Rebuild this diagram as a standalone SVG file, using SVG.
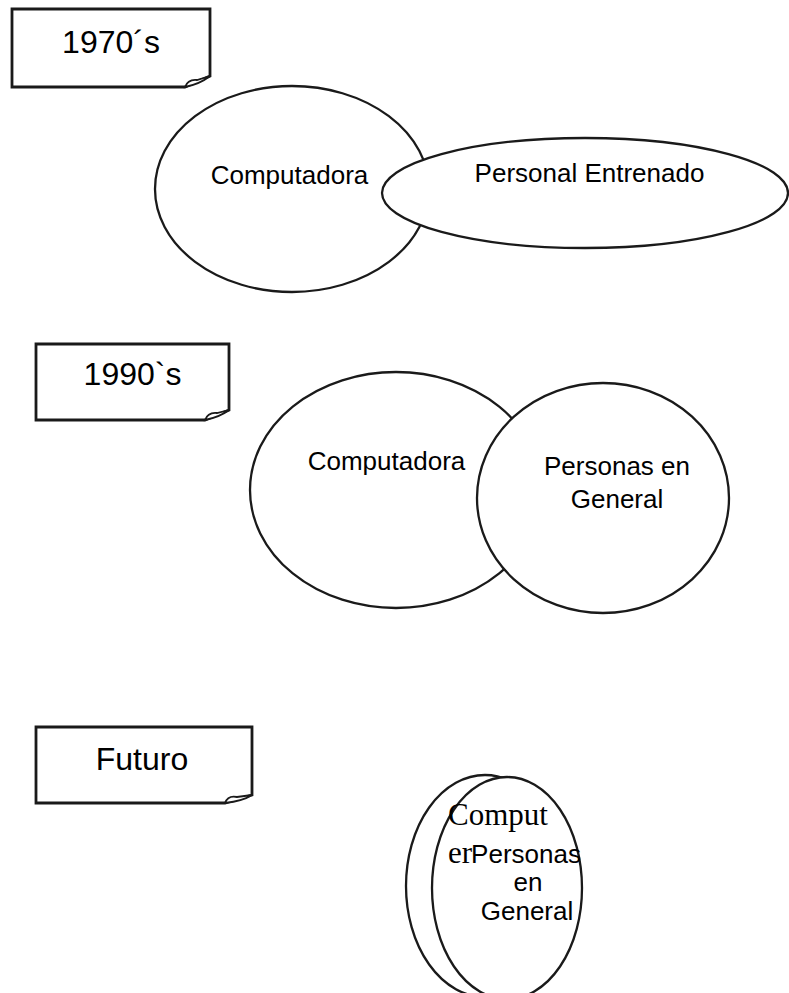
<svg xmlns="http://www.w3.org/2000/svg" width="789" height="993" viewBox="0 0 789 993">
<style>
.box{fill:#fff;stroke:#1a1a1a;stroke-width:2.8;stroke-linejoin:miter}
.curl{fill:#fff;stroke:#1a1a1a;stroke-width:1.8}
.shape{fill:#fff;stroke:#1a1a1a;stroke-width:2.3}
.lbl{font-family:"Liberation Sans",Arial,sans-serif;font-size:26px;fill:#000;text-anchor:middle}
.ttl{font-family:"Liberation Sans",Arial,sans-serif;font-size:32px;fill:#000;text-anchor:middle}
.ser{font-family:"Liberation Serif","Times New Roman",serif;font-size:31px;fill:#000}
</style>
<rect width="789" height="993" fill="#fff"/>
<g id="box-1970s">
<path class="box" d="M12,9 H210 V76 L185,87 H12 Z"/>
<path class="curl" d="M185,87 Q188,79 197,80 L210,76 Q200,84 185,87 Z"/>
<text class="ttl" x="111" y="53">1970´s</text>
</g>
<g id="computadora-1970">
<ellipse class="shape" cx="292" cy="189" rx="137" ry="103"/>
<text class="lbl" x="289.5" y="184">Computadora</text>
</g>
<g id="personal-entrenado">
<ellipse class="shape" cx="585" cy="193" rx="203" ry="55"/>
<text class="lbl" x="589.5" y="182">Personal Entrenado</text>
</g>
<g id="box-1990s">
<path class="box" d="M36,344 H229 V410 L205,420 H36 Z"/>
<path class="curl" d="M205,420 Q208,412 217,413 L229,410 Q220,417 205,420 Z"/>
<text class="ttl" x="132.5" y="385">1990`s</text>
</g>
<g id="computadora-1990">
<ellipse class="shape" cx="396" cy="490" rx="146" ry="118"/>
<text class="lbl" x="386.5" y="470">Computadora</text>
</g>
<g id="personas-1990">
<ellipse class="shape" cx="603" cy="498" rx="126" ry="115"/>
<text class="lbl" x="617" y="475">Personas en</text>
<text class="lbl" x="617" y="508">General</text>
</g>
<g id="box-futuro">
<path class="box" d="M36,727 H252 V795 L225,803 H36 Z"/>
<path class="curl" d="M225,803 Q228,795 237,797 L252,795 Q243,801 225,803 Z"/>
<text class="ttl" x="142" y="770">Futuro</text>
</g>
<g id="computer-futuro">
<ellipse class="shape" cx="485" cy="886" rx="79" ry="111"/>
</g>
<g id="personas-futuro">
<ellipse class="shape" cx="507" cy="888" rx="75" ry="111"/>
<text class="lbl" x="526" y="863">Personas</text>
<text class="lbl" x="528" y="891">en</text>
<text class="lbl" x="527" y="920">General</text>
</g>
<g id="computer-label">
<text class="ser" x="448" y="825">Comput</text>
<text class="ser" x="448" y="863">er</text>
</g>
</svg>
